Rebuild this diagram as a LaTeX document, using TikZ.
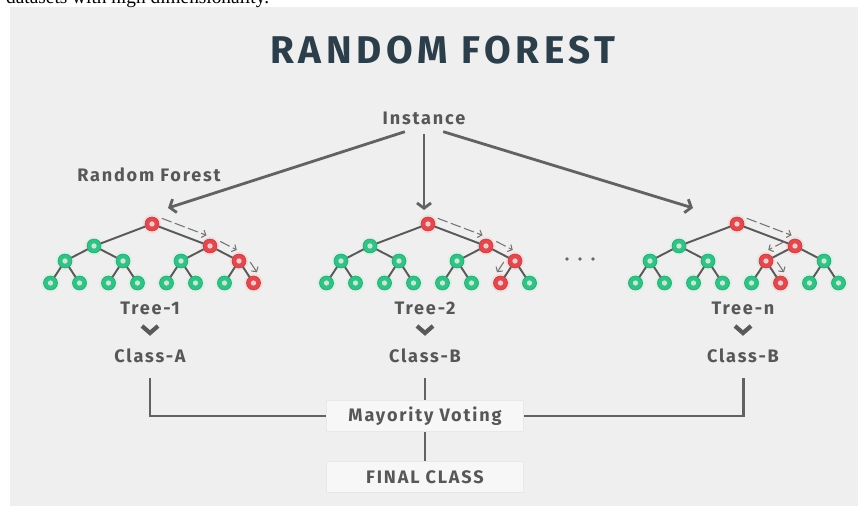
\documentclass[tikz,border=0pt]{standalone}
\usepackage{fontspec}
\setmainfont{Liberation Serif}
\newfontfamily\labelfont[LetterSpace=10]{Fira Sans}
\newfontfamily\titlefont[LetterSpace=12]{Fira Sans}
\usetikzlibrary{arrows.meta, calc, positioning}

\definecolor{panel}{HTML}{EFEFEF}
\definecolor{ink}{HTML}{2B3E4A}
\definecolor{txt}{HTML}{575757}
\definecolor{wire}{HTML}{626262}
\definecolor{leafgreen}{HTML}{33C185}
\definecolor{leafred}{HTML}{E04A4E}

\tikzset{
    lbl/.style={font=\labelfont\bfseries\fontsize{10.3}{12}\selectfont, text=txt},
    gnode/.style={circle, inner sep=0pt, minimum size=8pt, fill=leafgreen, draw=leafgreen!80!black, line width=0.3pt,
        preaction={draw=leafgreen!20, line width=2.6pt},
        path picture={\fill[leafgreen!30!white] (path picture bounding box.center) circle (1.5pt);}},
    rnode/.style={circle, inner sep=0pt, minimum size=8pt, fill=leafred, draw=leafred!80!black, line width=0.3pt,
        preaction={draw=leafred!20, line width=2.6pt},
        path picture={\fill[leafred!30!white] (path picture bounding box.center) circle (1.5pt);}},
    branch/.style={draw=black!65, line width=1.1pt},
    flow/.style={draw=black!55, line width=0.6pt, dash pattern=on 6pt off 2pt, shorten <=4pt, shorten >=4pt,
        -{Straight Barb[length=2pt,width=4.5pt]}},
    feed/.style={draw=wire, line width=1.6pt, shorten <=2pt, -{Straight Barb[length=3pt,width=8pt]}},
    link/.style={draw=wire, line width=1.7pt},
    chev/.style={draw=black!65, line width=2.4pt},
    box/.style={lbl, fill=black!3, draw=black!9, line width=0.6pt, minimum width=112pt, minimum height=18pt}
}

% dashed decision arrow beside a branch, on the side the path turns to
\newcommand\flowstep[3]{%
    \pgfmathtruncatemacro\sa{mod(#3,2)==1 ? 90 : -90}%
    \pgfmathtruncatemacro\sb{-\sa}%
    \draw[flow] ($(#1)!5pt!\sa:(#2)$) -- ($(#2)!5pt!\sb:(#1)$);
}

% one decision tree: name, x of root, red child on levels 1, 2, 3
\newcommand\drawtree[5]{%
    \node[rnode] (#1-0) at (#2,224) {};
    \foreach \i in {0,1} {
        \ifnum\i=#3\relax \def\nst{rnode}\else \def\nst{gnode}\fi
        \node[\nst] (#1-1-\i) at ({#2+(\i-0.5)*116},246) {};
        \draw[branch] (#1-0) -- (#1-1-\i);
    }
    \foreach \j in {0,...,3} {
        \ifnum\j=#4\relax \def\nst{rnode}\else \def\nst{gnode}\fi
        \pgfmathtruncatemacro\p{\j/2}
        \node[\nst] (#1-2-\j) at ({#2+(\j-1.5)*58},261) {};
        \draw[branch] (#1-1-\p) -- (#1-2-\j);
    }
    \foreach \k in {0,...,7} {
        \ifnum\k=#5\relax \def\nst{rnode}\else \def\nst{gnode}\fi
        \pgfmathtruncatemacro\p{\k/2}
        \node[\nst] (#1-3-\k) at ({#2+(\k-3.5)*29},283) {};
        \draw[branch] (#1-2-\p) -- (#1-3-\k);
    }
    \flowstep{#1-0}{#1-1-#3}{#3}
    \flowstep{#1-1-#3}{#1-2-#4}{#4}
    \flowstep{#1-2-#4}{#1-3-#5}{#5}
}

\begin{document}
\begin{tikzpicture}[x=0.02cm, y=-0.02cm]
    % Canvas
    \useasboundingbox (0,0) rectangle (865,506);
    \clip (0,0) rectangle (865,506);
    \fill[panel] (10,7) rectangle (858,506);
    \node[anchor=base west, font=\fontsize{11}{13}\selectfont] (cut) at (0,4) {datasets with high dimensionality.};
    % Title
    \node[font=\titlefont\bfseries\fontsize{22}{26}\selectfont, text=ink] (title) at (443,50) {RANDOM FOREST};
    % Instance
    \node[lbl] (inst) at (424,118) {Instance};
    \node[lbl] (rf) at (149,175) {Random Forest};
    \coordinate (in1) at (168,208);
    \coordinate (in2) at (424,210);
    \coordinate (inn) at (693,208);
    \draw[feed] ([xshift=-9pt]inst.south) -- (in1);
    \draw[feed] (inst.south) -- (in2);
    \draw[feed] ([xshift=9pt]inst.south) -- (inn);
    % Trees
    \drawtree{1}{152}{1}{3}{7}
    \drawtree{2}{428}{1}{3}{6}
    \drawtree{n}{737}{1}{2}{5}
    \foreach \d in {-13,0,13}
        \fill[black!60] (580+\d,259) circle (1.1pt);
    % Tree outputs
    \node[lbl] (t1) at (150,308) {Tree-1};
    \node[lbl] (t2) at (425,308) {Tree-2};
    \node[lbl] (tn) at (743,308) {Tree-n};
    \foreach \t in {t1,t2,tn}
        \draw[chev] ($(\t)+(-8,18)$) -- ($(\t)+(0,25)$) -- ($(\t)+(8,18)$);
    \node[lbl] (c1) at (150,356) {Class-A};
    \node[lbl] (c2) at (425,356) {Class-B};
    \node[lbl] (cn) at (743,356) {Class-B};
    % Voting
    \node[box] (vote) at (425,416) {Mayority Voting};
    \node[box] (final) at (425,477) {FINAL CLASS};
    \draw[link, shorten <=5pt] (c1.south) |- (vote.west);
    \draw[link, shorten <=5pt] (cn.south) |- (vote.east);
    \draw[link, shorten <=5pt] (c2.south) -- (vote.north);
    \draw[link] (vote.south) -- (final.north);
\end{tikzpicture}
\end{document}
